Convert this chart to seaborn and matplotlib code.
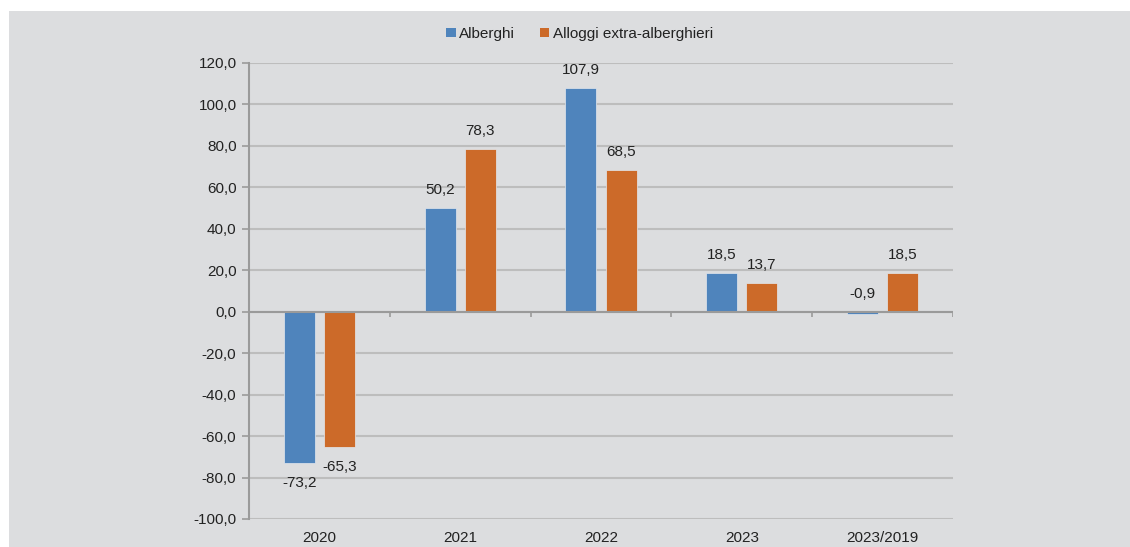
import numpy as np
import pandas as pd
import matplotlib
matplotlib.use("Agg")
import matplotlib.pyplot as plt
from matplotlib.patches import Rectangle
from matplotlib.ticker import FuncFormatter, MultipleLocator
import seaborn as sns

# data
anni = ["2020", "2021", "2022", "2023", "2023/2019"]
alberghi = [-73.2, 50.2, 107.9, 18.5, -0.9]
extra_alberghieri = [-65.3, 78.3, 68.5, 13.7, 18.5]
serie = ["Alberghi", "Alloggi extra-alberghieri"]
colori = ["#4f84bc", "#cc6a29"]

df = pd.DataFrame({
    "anno": anni * 2,
    "valore": alberghi + extra_alberghieri,
    "tipo": [serie[0]] * len(anni) + [serie[1]] * len(anni),
})

sns.set_theme(style="white")
plt.rcParams["font.family"] = ["Liberation Sans", "DejaVu Sans"]

bg = "#dcdddf"
grid_col = "#bdbdbd"
axis_col = "#9a9a9a"
fs = 11

fig = plt.figure(figsize=(11.3, 5.47), dpi=100, facecolor="white")
# grey panel behind the chart
fig.patches.append(Rectangle((9 / 1130, 0), 1 - 9 / 1130, 1 - 11 / 547,
                             transform=fig.transFigure, facecolor=bg,
                             edgecolor="none", zorder=-10))

ax = fig.add_axes([249 / 1130, 1 - 519 / 547, (953 - 249) / 1130, (519 - 63) / 547])
ax.set_facecolor(bg)

sns.barplot(data=df, x="anno", y="valore", hue="tipo", palette=colori,
            saturation=1, width=0.57, gap=0.225, edgecolor="#e4e8ee", linewidth=0.5,
            legend=False, ax=ax, zorder=3)

ax.set_ylim(-100, 120)
ax.set_xlim(-0.5, len(anni) - 0.5)
ax.yaxis.set_major_locator(MultipleLocator(20))
ax.yaxis.set_major_formatter(FuncFormatter(lambda v, p: f"{v:.1f}".replace(".", ",")))
ax.set_xlabel("")
ax.set_ylabel("")

# gridlines and axes
ax.grid(axis="y", color=grid_col, linewidth=1.5, zorder=0)
ax.set_axisbelow(True)
for s in ["top", "right", "bottom"]:
    ax.spines[s].set_visible(False)
ax.spines["left"].set_color(axis_col)
ax.spines["left"].set_linewidth(1.5)
ax.tick_params(axis="y", length=5, width=1.2, color=axis_col, pad=4,
               labelsize=fs, labelcolor="#222222", left=True)
ax.tick_params(axis="x", length=0, pad=9, labelsize=fs, labelcolor="#222222")

# zero line with category separators
ax.axhline(0, color=axis_col, linewidth=1.5, zorder=4)
confini = np.arange(len(anni) + 1) - 0.5
ax.vlines(confini[1:], -2.4, 0, color=axis_col, linewidth=1.2, zorder=4)

# value labels
for cont in ax.containers:
    for bar in cont:
        v = bar.get_height()
        x = bar.get_x() + bar.get_width() / 2
        testo = f"{v:.1f}".replace(".", ",")
        if v < -5:
            ax.annotate(testo, (x, v), xytext=(0, -20), textcoords="offset pixels",
                        ha="center", va="center", fontsize=fs, color="#222222")
        else:
            ax.annotate(testo, (x, max(v, 0)), xytext=(0, 18), textcoords="offset pixels",
                        ha="center", va="center", fontsize=fs, color="#222222")

# legend
handles = [Rectangle((0, 0), 1, 1, facecolor=c, edgecolor="none") for c in colori]
fig.legend(handles, serie, loc="center", bbox_to_anchor=(0.513, 1 - 34 / 547),
           ncol=2, frameon=False, fontsize=fs, handlelength=0.6, handleheight=0.6,
           handletextpad=0.25, columnspacing=1.6, labelcolor="#222222")

fig.savefig("out.png", dpi=100, facecolor="white")
